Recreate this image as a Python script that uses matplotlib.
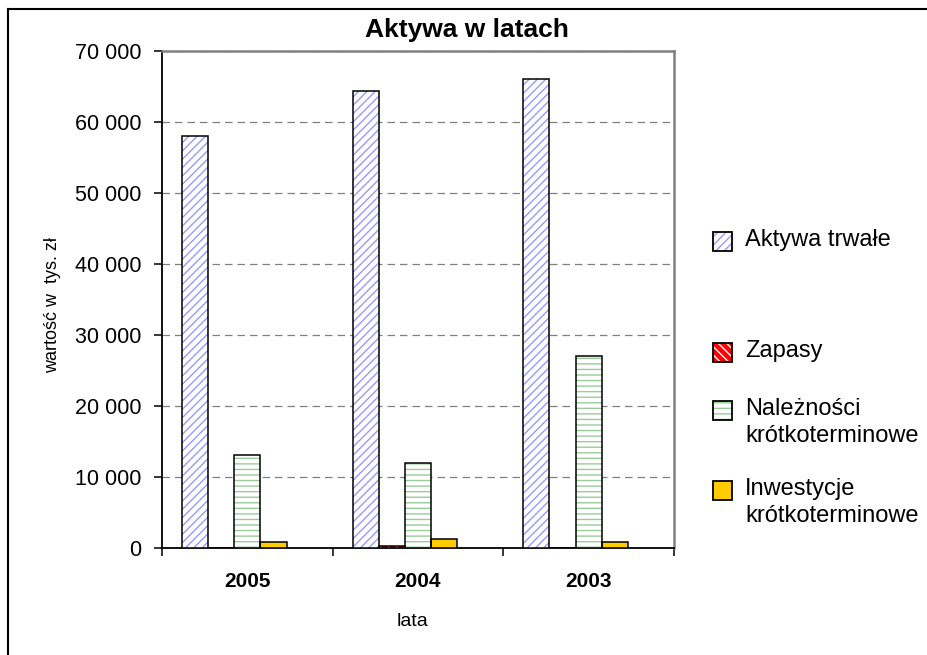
import matplotlib
matplotlib.use("Agg")
import matplotlib.pyplot as plt
from matplotlib.patches import Rectangle
from matplotlib.lines import Line2D
import numpy as np

plt.rcParams['font.family'] = ['Liberation Sans', 'DejaVu Sans']
plt.rcParams['hatch.linewidth'] = 1.0

# Data (tys. zł)
years = ["2005", "2004", "2003"]
series_names = ["Aktywa trwałe", "Zapasy", "Należności\nkrótkoterminowe",
                "Inwestycje\nkrótkoterminowe"]
aktywa_trwale = [58000, 64400, 66100]
zapasy = [0, 300, 0]
naleznosci = [13100, 12000, 27000]
inwestycje = [850, 1200, 850]
yticks = [0, 10000, 20000, 30000, 40000, 50000, 60000, 70000]

values = [aktywa_trwale, zapasy, naleznosci, inwestycje]
# (face colour, hatch colour, hatch pattern)
styles = [
    ("white", "#9999FF", "////"),
    ("#FF0000", "white", "\\\\\\\\"),
    ("white", "#99CC99", "---"),
    ("#FFCC00", None, None),
]

W, H = 928, 655
fig = plt.figure(figsize=(W / 100, H / 100), dpi=100)
fig.patch.set_facecolor("white")

ax = fig.add_axes([162 / W, 107 / H, 512 / W, 497 / H])

x = np.arange(len(years))
n_slots = 5
bw = 0.766 / n_slots
for i, (vals, (fc, hc, hatch)) in enumerate(zip(values, styles)):
    pos = x + (i - (n_slots - 1) / 2) * bw
    if hatch:
        ax.bar(pos, vals, width=bw, color=fc, edgecolor=hc, hatch=hatch,
               linewidth=0, zorder=3)
        ax.bar(pos, vals, width=bw, facecolor="none", edgecolor="black",
               linewidth=1.1, zorder=4)
    else:
        ax.bar(pos, vals, width=bw, color=fc, edgecolor="black",
               linewidth=1.1, zorder=3)

ax.set_xlim(-0.5, len(years) - 0.5)
ax.set_ylim(0, 70000)
ax.set_yticks(yticks)
ax.set_yticklabels([f"{v:,}".replace(",", " ") for v in yticks], fontsize=15.5)
ax.yaxis.grid(True, linestyle=(0, (6, 4)), color="#808080", linewidth=0.9, zorder=0)
ax.set_axisbelow(True)

ax.set_xticks(np.arange(len(years) + 1) - 0.5)
ax.set_xticklabels([])
ax.set_xticks(x, minor=True)
ax.set_xticklabels(years, minor=True, fontsize=15, fontweight="bold")
ax.tick_params(axis="x", which="minor", length=0, pad=17)
ax.tick_params(axis="x", which="major", length=6, width=1.1, direction="out")
ax.tick_params(axis="y", length=6, width=1.1, direction="out", pad=9)

for s in ("left", "bottom"):
    ax.spines[s].set_color("black")
    ax.spines[s].set_linewidth(1.3)
for s in ("top", "right"):
    ax.spines[s].set_color("#808080")
    ax.spines[s].set_linewidth(1.8)

fig.text(467 / W, 1 - 30 / H, "Aktywa w latach", ha="center", va="center",
         fontsize=19, fontweight="bold")
fig.text(413 / W, 1 - 622 / H, "lata", ha="center", va="center", fontsize=14)
fig.text(53 / W, 1 - 305 / H, "wartość w  tys. zł", ha="center", va="center",
         rotation=90, fontsize=13)

# Legend entries
entry_y = [241, 352, 410, 490]
box = 19
for name, (fc, hc, hatch), yc in zip(series_names, styles, entry_y):
    x0, y0 = 713, yc - box / 2
    rect = (x0 / W, 1 - (y0 + box) / H)
    if hatch:
        fig.patches.append(Rectangle(rect, box / W, box / H,
                                     transform=fig.transFigure, facecolor=fc,
                                     edgecolor=hc, hatch=hatch, linewidth=0))
        fig.patches.append(Rectangle(rect, box / W, box / H,
                                     transform=fig.transFigure, facecolor="none",
                                     edgecolor="black", linewidth=1.3))
    else:
        fig.patches.append(Rectangle(rect, box / W, box / H,
                                     transform=fig.transFigure, facecolor=fc,
                                     edgecolor="black", linewidth=1.3))
    fig.text(745 / W, 1 - (yc - 12) / H, name, ha="left", va="top",
             fontsize=17, linespacing=1.28)

# Chart frame (top and left edges)
fig.add_artist(Line2D([8 / W, 1], [1 - 9 / H, 1 - 9 / H], transform=fig.transFigure,
                      color="black", linewidth=1.5))
fig.add_artist(Line2D([8 / W, 8 / W], [0, 1 - 9 / H], transform=fig.transFigure,
                      color="black", linewidth=1.5))

fig.savefig("out.png", dpi=100)
